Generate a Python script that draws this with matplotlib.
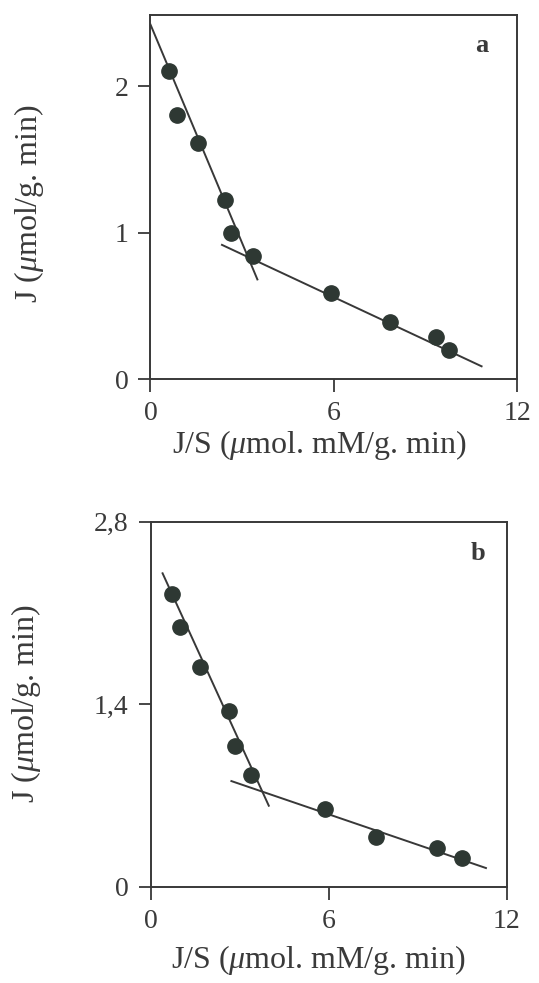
import matplotlib
matplotlib.use("Agg")
import matplotlib.pyplot as plt

# Panel a data
xa = [0.60, 0.86, 1.57, 2.43, 2.65, 3.37, 5.91, 7.84, 9.36, 9.77]
ya = [2.10, 1.80, 1.61, 1.225, 1.00, 0.84, 0.59, 0.39, 0.29, 0.20]
a_line1_x = [0.0, 3.50]
a_line1_y = [2.42, 0.68]
a_line2_x = [2.34, 10.84]
a_line2_y = [0.916, 0.087]

# Panel b data
xb = [0.71, 0.99, 1.66, 2.65, 2.85, 3.37, 5.89, 7.58, 9.64, 10.48]
yb = [2.243, 1.99, 1.688, 1.35, 1.082, 0.857, 0.593, 0.384, 0.299, 0.217]
b_line1_x = [0.40, 3.98]
b_line1_y = [2.404, 0.621]
b_line2_x = [2.72, 11.30]
b_line2_y = [0.81, 0.143]

xticks = [0, 6, 12]
a_yticks = [0, 1, 2]
a_yticklabels = ["0", "1", "2"]
b_yticks = [0, 1.4, 2.8]
b_yticklabels = ["0", "1,4", "2,8"]

plt.rcParams['font.family'] = ['Liberation Serif', 'DejaVu Serif']
plt.rcParams['mathtext.fontset'] = 'custom'
plt.rcParams['mathtext.it'] = 'Liberation Serif:italic'
plt.rcParams['mathtext.rm'] = 'Liberation Serif'

txt = '#3a3a3a'
linec = '#383838'
mk = '#2e3833'

fig = plt.figure(figsize=(5.39, 9.83), dpi=100)
ax_a = fig.add_axes([0.2792, 0.6144, 0.680, 0.3703])
ax_b = fig.add_axes([0.2796, 0.098, 0.6605, 0.3713])

def style(ax, ylim, yt, ytl, letter, lx, ly, xl_pos, yl_pos):
    ax.set_xlim(0, 12)
    ax.set_ylim(*ylim)
    ax.set_xticks(xticks)
    ax.set_xticklabels([str(t) for t in xticks])
    ax.set_yticks(yt)
    ax.set_yticklabels(ytl)
    ax.tick_params(direction='out', length=9, width=1.3, labelsize=20,
                   colors=linec, labelcolor=txt, pad=7)
    for s in ax.spines.values():
        s.set_linewidth(1.4)
        s.set_color(linec)
    ax.set_xlabel(r'J/S ($\mu$mol. mM/g. min)', fontsize=23, color=txt)
    ax.set_ylabel(r'J ($\mu$mol/g. min)', fontsize=23, color=txt)
    ax.xaxis.set_label_coords(*xl_pos)
    ax.yaxis.set_label_coords(*yl_pos)
    ax.text(lx, ly, letter, transform=ax.transAxes, fontsize=19,
            fontweight='bold', color=txt, ha='center', va='center')

ax_a.plot(a_line1_x, a_line1_y, color=linec, lw=1.4)
ax_a.plot(a_line2_x, a_line2_y, color=linec, lw=1.4)
ax_a.plot(xa, ya, 'o', ms=11, color=mk, mec=mk)
style(ax_a, (0, 2.485), a_yticks, a_yticklabels, 'a', 0.905, 0.915,
      (0.46, -0.135), (-0.286, 0.483))

ax_b.plot(b_line1_x, b_line1_y, color=linec, lw=1.4)
ax_b.plot(b_line2_x, b_line2_y, color=linec, lw=1.4)
ax_b.plot(xb, yb, 'o', ms=11, color=mk, mec=mk)
style(ax_b, (0, 2.8), b_yticks, b_yticklabels, 'b', 0.918, 0.912,
      (0.472, -0.155), (-0.303, 0.503))

fig.savefig('out.png', dpi=100)
